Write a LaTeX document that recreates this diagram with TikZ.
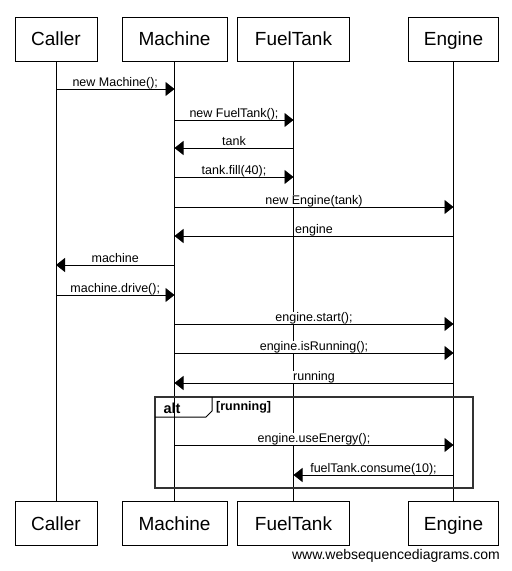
\documentclass[tikz,border=0pt]{standalone}
\usepackage{fontspec}
\setmainfont{Liberation Sans}
\usetikzlibrary{arrows.meta}

\begin{document}
\begin{tikzpicture}[x=1pt, y=-1pt,
    actor/.style={draw, line width=1pt, minimum height=44pt, inner sep=0pt,
      text height=13.6pt, text depth=0pt, font=\fontsize{19}{22}\selectfont},
    msg/.style={line width=0.9pt, -{Triangle[length=9pt,width=14pt]}},
    lbl/.style={anchor=base, yshift=2.5pt, fill=white, inner sep=0.6pt, behind path,
      font=\fontsize{12.5}{15}\selectfont}]

    \useasboundingbox (0,0) rectangle (512,571);

    % Draw the actor boxes
    \node[actor, minimum width=82pt] (CallerT) at (56,39) {Caller};
    \node[actor, minimum width=105pt] (MachineT) at (174.5,39) {Machine};
    \node[actor, minimum width=112pt] (TankT) at (293.5,39) {FuelTank};
    \node[actor, minimum width=90pt] (EngineT) at (453.5,39) {Engine};

    \node[actor, minimum width=82pt] (CallerB) at (56,523.5) {Caller};
    \node[actor, minimum width=105pt] (MachineB) at (174.5,523.5) {Machine};
    \node[actor, minimum width=112pt] (TankB) at (293.5,523.5) {FuelTank};
    \node[actor, minimum width=90pt] (EngineB) at (453.5,523.5) {Engine};

    % Draw the lifelines
    \draw[line width=1pt] (CallerT) -- (CallerB);
    \draw[line width=1pt] (MachineT) -- (MachineB);
    \draw[line width=1pt] (TankT) -- (TankB);
    \draw[line width=1pt] (EngineT) -- (EngineB);

    % Draw the messages
    \foreach \y/\src/\dst/\txt in {
        89/CallerT/MachineT/{new Machine();},
        120/MachineT/TankT/{new FuelTank();},
        148/TankT/MachineT/{tank},
        177/MachineT/TankT/{tank.fill(40);},
        207/MachineT/EngineT/{new Engine(tank)},
        236/EngineT/MachineT/{engine},
        265/MachineT/CallerT/{machine},
        295/CallerT/MachineT/{machine.drive();},
        324/MachineT/EngineT/{engine.start();},
        353/MachineT/EngineT/{engine.isRunning();},
        383/EngineT/MachineT/{running},
        445/MachineT/EngineT/{engine.useEnergy();},
        475/EngineT/TankT/{fuelTank.consume(10);}}
      \draw[msg] (\src |- 0,\y) -- (\dst |- 0,\y) node[lbl, midway] {\txt};

    % Draw the alt frame
    \draw[line width=2pt, draw=black!80] (155,397) rectangle (473,488);
    \draw[line width=1pt] (155,417) -- (206,417) -- (212,411) -- (212,397);
    \node[anchor=base, inner sep=0pt, font=\bfseries\fontsize{14.5}{17}\selectfont] (altlbl) at (172,413) {alt};
    \node[anchor=base west, inner sep=0pt, font=\bfseries\fontsize{12.5}{15}\selectfont] (cond) at (216,410) {[running]};

    % Label the source
    \node[anchor=base east, inner sep=0pt, font=\fontsize{14}{16}\selectfont] (wsd) at (500,559) {www.websequencediagrams.com};

\end{tikzpicture}
\end{document}
